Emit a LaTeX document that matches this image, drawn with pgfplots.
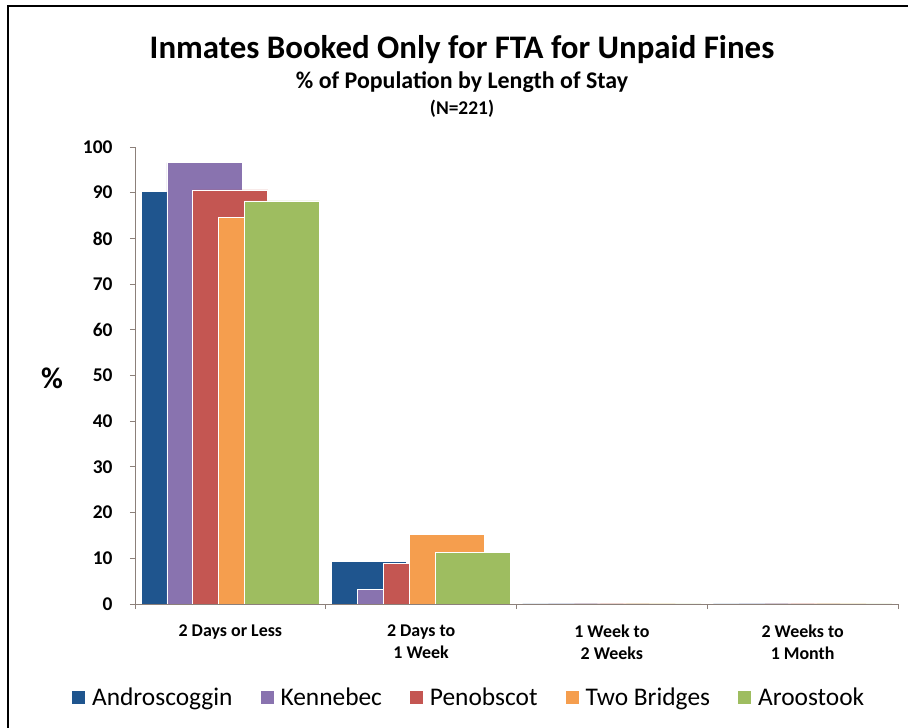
\documentclass[border=0pt]{standalone}
\usepackage{fontspec}
\setmainfont{Carlito}
\usepackage{pgfplots}
\pgfplotsset{compat=1.18}
\definecolor{cAndro}{RGB}{31,85,142}
\definecolor{cKenn}{RGB}{137,115,175}
\definecolor{cPeno}{RGB}{196,86,82}
\definecolor{cTwo}{RGB}{245,158,78}
\definecolor{cAroo}{RGB}{158,189,96}
\definecolor{axisgray}{RGB}{140,128,122}
\pgfplotsset{
  mybar/.style={ybar, bar width=0.393, draw=white, line width=0.8bp,
    legend image code/.code={\draw[##1,/tikz/.cd,draw=none] (0bp,-6.5bp) rectangle (13bp,6.5bp);}},
}
\begin{document}
\begin{tikzpicture}
\path[use as bounding box] (0,0) rectangle (908bp,728bp);
\draw[black, line width=1.6bp] (8bp,0bp) -- (8bp,722bp) -- (908bp,722bp);
\node[font=\bfseries\fontsize{33}{36}\selectfont] at (462bp,678bp) {Inmates Booked Only for FTA for Unpaid Fines};
\node[font=\bfseries\fontsize{24}{26}\selectfont] at (462bp,646bp) {\% of Population by Length of Stay};
\node[font=\bfseries\fontsize{19.5}{22}\selectfont] at (462bp,619bp) {(N=221)};
\node[font=\bfseries\fontsize{30}{32}\selectfont] at (52bp,350bp) {\%};
\begin{axis}[
  at={(135bp,124bp)}, anchor=south west,
  scale only axis, width=763bp, height=457bp,
  xmin=-0.5, xmax=3.5, ymin=0, ymax=100,
  axis x line*=bottom, axis y line*=left,
  axis line style={axisgray, line width=0.9bp, -},
  axis on top,
  xtick={0,1,2,3},
  xticklabels={2 Days or Less,{2 Days to\\1 Week},{1 Week to\\2 Weeks},{2 Weeks to\\1 Month}},
  minor xtick={-0.5,0.5,1.5,2.5,3.5},
  ytick={0,10,...,100},
  tick align=outside,
  major x tick style={draw=none},
  minor x tick style={axisgray, line width=0.9bp},
  y tick style={axisgray, line width=0.9bp},
  major tick length=5bp, minor tick length=5bp,
  /pgf/number format/assume math mode=true,
  yticklabel style={font=\bfseries\fontsize{19.5}{22}\selectfont, xshift=-14bp},
  xticklabel style={font=\bfseries\fontsize{18}{22}\selectfont, align=center, yshift=-12bp},
  legend style={draw=none, fill=none, at={(0.438,-0.2035)}, anchor=center,
    font=\fontsize{25.5}{28}\selectfont, legend columns=5,
    /tikz/every odd column/.append style={column sep=5bp},
    /tikz/every even column/.append style={column sep=26bp}},
]
\addplot[mybar, fill=cAndro, bar shift=-0.272] coordinates {(0,90.2) (1,9.3) (2,0) (3,0)};
\addplot[mybar, fill=cKenn, bar shift=-0.136] coordinates {(0,96.6) (1,3.1) (2,0) (3,0)};
\addplot[mybar, fill=cPeno, bar shift=0] coordinates {(0,90.6) (1,8.9) (2,0) (3,0)};
\addplot[mybar, fill=cTwo, bar shift=0.136] coordinates {(0,84.6) (1,15.3) (2,0) (3,0)};
\addplot[mybar, fill=cAroo, bar shift=0.272] coordinates {(0,88.2) (1,11.2) (2,0) (3,0)};
\legend{Androscoggin,Kennebec,Penobscot,Two Bridges,Aroostook}
\end{axis}
\end{tikzpicture}
\end{document}
